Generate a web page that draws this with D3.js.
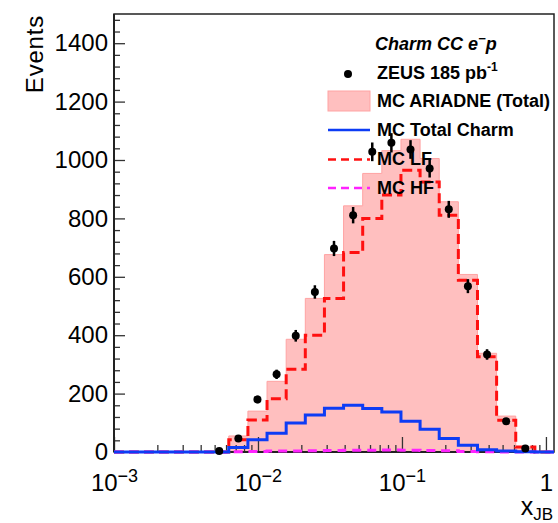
<!DOCTYPE html>
<html><head><meta charset="utf-8">
<script src="https://cdn.jsdelivr.net/npm/d3@7/dist/d3.min.js"></script>
<style>
body{margin:0;background:#fff}
svg{display:block;font-family:"Liberation Sans",Arial,Helvetica,sans-serif}
</style>
</head><body><svg id="c" width="558" height="523"></svg>
<script>
// ---- data (bins uniform in log10 x) ----
const xEdges = [0.001, 0.0013579, 0.0018439, 0.0025039, 0.0034000, 0.0046169, 0.0062693,
  0.0085131, 0.0115600, 0.0156973, 0.0213154, 0.0289442, 0.0393033, 0.0533699, 0.0724710,
  0.0984084, 0.1336288, 0.1814546, 0.2463952, 0.3345810, 0.4543275, 0.6169313, 0.8377311, 1.1375450];
const mcTotal = [0,0,0,0,0,0,55,140,242,386,526,676,843,954,1032,1071,1005,857,608,338,123,18,0];
const mcLF    = [0,0,0,0,0,0,42,110,182,283,400,526,683,800,880,965,925,811,588,326,109,17,0];
const mcCharm = [0,0,0,0,0,0,15,42,64,99,127,150,160,149,137,105,78,46,23,8,3,1,0];
const mcHF    = [0,0,0,0,0,0,1,2,3,3,4,5,6,6,7,6,5,4,2,1,0,0,0];
const dataVals = [null,null,null,null,null,3,46,180,266,398,548,697,811,1028,1059,1036,971,831,568,334,105,12,null];
const dataErr  = [null,null,null,null,null,2,7,13,16,20,23,26,28,32,33,32,31,29,24,18,10,3,null];

const yMajor = [0,200,400,600,800,1000,1200,1400];
const yMajorLabels = ["0","200","400","600","800","1000","1200","1400"];
const xMajor = [0.001,0.01,0.1,1];
const xMajorBase = ["10","10","10","1"];
const xMajorExp = ["\u22123","\u22122","\u22121",""];

const legendLabels = ["ZEUS 185 pb","MC ARIADNE (Total)","MC Total Charm","MC LF","MC HF"];

// ---- layout ----
const L=114, R=554, T=14, B=452;
const svg = d3.select("#c");
const x = d3.scaleLog().domain([0.001, 1.137545]).range([L,R]);
const y = d3.scaleLinear().domain([0,1500]).range([B,T]);

const pink="#ffbfbf", pinkEdge="#ffa3a3", blue="#0d3cf5", red="#ff1010", mag="#ff22ff";

function histPts(vals){
  const p=[[xEdges[0],0]];
  vals.forEach((v,i)=>{p.push([xEdges[i],v]);p.push([xEdges[i+1],v]);});
  p.push([xEdges[xEdges.length-1],0]);
  return p;
}
const line = d3.line().x(d=>x(d[0])).y(d=>y(d[1]));
const area = d3.area().x(d=>x(d[0])).y0(y(0)).y1(d=>y(d[1]));

// total MC fill
svg.append("path").attr("d",area(histPts(mcTotal))).attr("fill",pink)
  .attr("stroke",pinkEdge).attr("stroke-width",1);

// axes ticks (inside)
const xMinor=[];
for(let e=-3;e<=0;e++) for(let k=2;k<=9;k++){const v=k*Math.pow(10,e); if(v<1.137) xMinor.push(v);}
const gx = svg.append("g").attr("transform",`translate(0,${B})`);
gx.call(d3.axisBottom(x).tickValues(xMinor).tickSize(-7).tickSizeOuter(0).tickFormat(""));
const gx2 = svg.append("g").attr("transform",`translate(0,${B})`);
gx2.call(d3.axisBottom(x).tickValues(xMajor).tickSize(-15).tickSizeOuter(0).tickFormat(""));
[gx,gx2].forEach(g=>{g.select(".domain").remove(); g.selectAll("line").attr("stroke","#333").attr("stroke-width",1.3);});

const yMinor = d3.range(0,1501,40).filter(v=>v%200!==0);
const gy = svg.append("g").attr("transform",`translate(${L},0)`);
gy.call(d3.axisLeft(y).tickValues(yMinor).tickSize(-6).tickSizeOuter(0).tickFormat(""));
const gy2 = svg.append("g").attr("transform",`translate(${L},0)`);
gy2.call(d3.axisLeft(y).tickValues(yMajor).tickSize(-11).tickSizeOuter(0).tickPadding(6)
  .tickFormat((d,i)=>yMajorLabels[i]));
[gy,gy2].forEach(g=>{g.select(".domain").remove(); g.selectAll("line").attr("stroke","#333").attr("stroke-width",1.3);});
gy2.selectAll("text").attr("font-size",24).attr("fill","#000")
  .attr("font-family","'Liberation Sans',Arial,sans-serif");

// x labels
gx2.selectAll(".tick").each(function(d,i){
  const t=d3.select(this).select("text").remove();
  const tx=d3.select(this).append("text").attr("y",39).attr("text-anchor","middle")
    .attr("font-size",24).attr("fill","#000").attr("font-family","'Liberation Sans',Arial,sans-serif");
  tx.append("tspan").text(xMajorBase[i]);
  if(xMajorExp[i]) tx.append("tspan").attr("dy",-9).attr("font-size",18).text(xMajorExp[i]);
});

// frame
svg.append("rect").attr("x",L).attr("y",T).attr("width",R-L).attr("height",B-T)
  .attr("fill","none").attr("stroke","#222").attr("stroke-width",1.5);
svg.append("line").attr("x1",L).attr("x2",L).attr("y1",T).attr("y2",B).attr("stroke","#222").attr("stroke-width",2);
svg.append("line").attr("x1",L).attr("x2",R).attr("y1",B).attr("y2",B).attr("stroke","#222").attr("stroke-width",2);

// MC lines
svg.append("path").attr("d",line(histPts(mcLF))).attr("fill","none").attr("stroke",red)
  .attr("stroke-width",3).attr("stroke-dasharray","10,5");
svg.append("path").attr("d",line(histPts(mcHF))).attr("fill","none").attr("stroke",mag)
  .attr("stroke-width",3).attr("stroke-dasharray","9,6");
svg.append("path").attr("d",line(histPts(mcCharm))).attr("fill","none").attr("stroke",blue)
  .attr("stroke-width",3);

// data points
const pts = dataVals.map((v,i)=>({v, e:dataErr[i], c:Math.sqrt(xEdges[i]*xEdges[i+1])})).filter(d=>d.v!==null);
const gp = svg.append("g");
gp.selectAll("line").data(pts).join("line")
  .attr("x1",d=>x(d.c)).attr("x2",d=>x(d.c)).attr("y1",d=>y(d.v-d.e)).attr("y2",d=>y(d.v+d.e))
  .attr("stroke","#000").attr("stroke-width",2.5);
gp.selectAll("circle").data(pts).join("circle")
  .attr("cx",d=>x(d.c)).attr("cy",d=>y(d.v)).attr("r",4).attr("fill","#000");

// axis titles
svg.append("text").attr("transform","translate(43,15) rotate(-90)").attr("text-anchor","end")
  .attr("font-size",24).attr("letter-spacing",0.8).text("Events");
const xt = svg.append("text").attr("x",553).attr("y",515).attr("text-anchor","end").attr("font-size",25);
xt.append("tspan").text("x");
xt.append("tspan").attr("dy",5).attr("font-size",17).text("JB");

// legend
const lx=377, lys=[78.5,107,136,165,194];
const t0 = svg.append("text").attr("x",375).attr("y",49.5).attr("font-size",18)
  .attr("font-weight","bold").attr("font-style","italic");
t0.append("tspan").text("Charm CC e");
t0.append("tspan").attr("dy",-7).attr("font-size",13).text("\u2212");
t0.append("tspan").attr("dy",7).text("p");

legendLabels.forEach((s,i)=>{
  const t=svg.append("text").attr("x",lx).attr("y",lys[i]).attr("font-size",18).attr("font-weight","bold").text(s);
  if(i===0) t.append("tspan").attr("dy",-8).attr("font-size",12).text("-1");
});
svg.append("circle").attr("cx",348).attr("cy",74).attr("r",4).attr("fill","#000");
svg.append("rect").attr("x",328).attr("y",91).attr("width",42).attr("height",20).attr("fill",pink).attr("stroke",pinkEdge);
svg.append("line").attr("x1",328).attr("x2",370).attr("y1",130).attr("y2",130).attr("stroke",blue).attr("stroke-width",2.5);
svg.append("line").attr("x1",328).attr("x2",370).attr("y1",159.5).attr("y2",159.5).attr("stroke",red).attr("stroke-width",2.5).attr("stroke-dasharray","8,5");
svg.append("line").attr("x1",328).attr("x2",370).attr("y1",188).attr("y2",188).attr("stroke",mag).attr("stroke-width",2.5).attr("stroke-dasharray","8,5");
</script>
</body></html>
